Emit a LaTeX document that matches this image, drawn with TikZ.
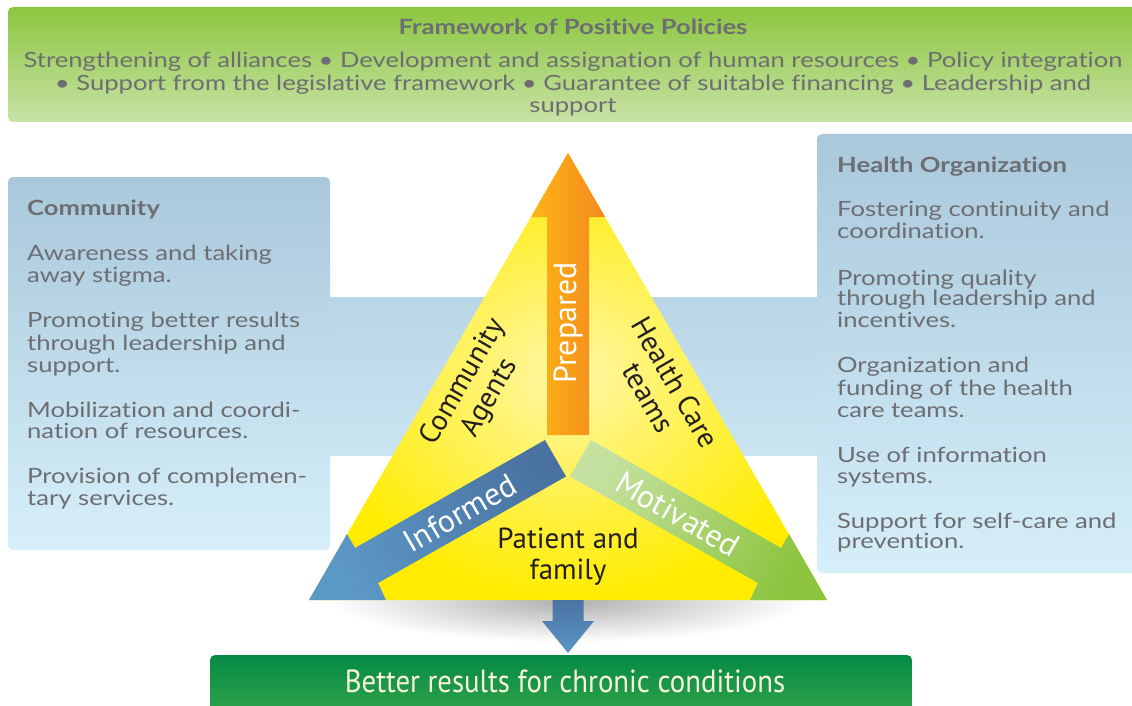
\documentclass[tikz,border=0pt]{standalone}
\usepackage{fontspec}
\setmainfont{Lato}
\newfontfamily\boxf[FakeStretch=1.22,Ligatures=NoCommon]{Lato}
\newfontfamily\myr{PT Sans}
\newfontfamily\myrc[FakeStretch=0.9]{PT Sans}
\definecolor{bxtop}{HTML}{A9C8DB}
\definecolor{bxbot}{HTML}{D6EFFA}
\definecolor{gtop}{HTML}{8CC63F}
\definecolor{gbot}{HTML}{C8E2A6}
\definecolor{txtgrey}{HTML}{6D6E71}
\definecolor{yelout}{HTML}{FFEC00}
\definecolor{yelin}{HTML}{FFF7A8}
\definecolor{orA}{HTML}{FDB515}
\definecolor{orB}{HTML}{F4891F}
\definecolor{blTip}{HTML}{5C98C6}
\definecolor{blIn}{HTML}{4A72A1}
\definecolor{grTip}{HTML}{8CC43E}
\definecolor{grIn}{HTML}{C5E1A0}
\definecolor{dnA}{HTML}{4B74A3}
\definecolor{dnB}{HTML}{5B95C5}
\definecolor{gbA}{HTML}{058A46}
\definecolor{gbB}{HTML}{3DAA4A}
\definecolor{cream}{HTML}{F7F4DC}
\definecolor{dark}{HTML}{231F20}
\pgfdeclareradialshading{tshadow}{\pgfpoint{0bp}{0bp}}{color(0bp)=(black!32);color(8bp)=(black!20);color(22bp)=(white);color(50bp)=(white)}
\tikzset{
  boxtxt/.style={anchor=base west, inner sep=0pt, text=txtgrey, font=\boxf\fontsize{21}{22}\selectfont},
  boxttl/.style={boxtxt, font=\boxf\bfseries\fontsize{21}{22}\selectfont},
  toptxt/.style={anchor=base, inner sep=0pt, text=txtgrey, font=\boxf\fontsize{21}{22}\selectfont},
  trilbl/.style={inner sep=0pt, text=dark, align=center, font=\myr\fontsize{29}{31}\selectfont},
  arrlbl/.style={inner sep=0pt, text=white, font=\myr\fontsize{32}{34}\selectfont},
}
\begin{document}
\begin{tikzpicture}[x=1pt,y=-1pt]
\useasboundingbox (0,0) rectangle (1132,706);
\clip (0,0) rectangle (1132,706);
% top green box
\shade[top color=gtop, bottom color=gbot, rounded corners=5] (8,7) rectangle (1145,122);
\node[toptxt, font=\boxf\bfseries\fontsize{21}{22}\selectfont] (ttl) at (573,35) {Framework of Positive Policies};
\node[toptxt] (t1) at (573,68) {Strengthening of alliances • Development and assignation of human resources • Policy integration};
\node[toptxt] (t2) at (573,91) {• Support from the legislative framework • Guarantee of suitable financing • Leadership and};
\node[toptxt] (t3) at (573,113) {support};
% side boxes and band
\shade[top color=bxtop, bottom color=bxbot, rounded corners=5] (8,177) rectangle (330,550);
\shade[top color=bxtop, bottom color=bxbot, rounded corners=5] (817,134) rectangle (1145,573);
\shade[top color=bxtop!65!bxbot, bottom color=bxtop!26!bxbot] (330,297) rectangle (817,455);
% left box text
\node[boxttl] (c0) at (27,215) {Community};
\node[boxtxt] (c1) at (27,260) {Awareness and taking};
\node[boxtxt] (c2) at (27,282) {away stigma.};
\node[boxtxt] (c3) at (27,327) {Promoting better results};
\node[boxtxt] (c4) at (27,350) {through leadership and};
\node[boxtxt] (c5) at (27,372) {support.};
\node[boxtxt] (c6) at (27,417) {Mobilization and coordi-};
\node[boxtxt] (c7) at (27,438) {nation of resources.};
\node[boxtxt] (c8) at (27,483) {Provision of complemen-};
\node[boxtxt] (c9) at (27,505) {tary services.};
% right box text
\node[boxttl] (h0) at (837,172) {Health Organization};
\node[boxtxt] (h1) at (837,216) {Fostering continuity and};
\node[boxtxt] (h2) at (837,238) {coordination.};
\node[boxtxt] (h3) at (837,285) {Promoting quality};
\node[boxtxt] (h4) at (837,305) {through leadership and};
\node[boxtxt] (h5) at (837,327) {incentives.};
\node[boxtxt] (h6) at (837,372) {Organization and};
\node[boxtxt] (h7) at (837,395) {funding of the health};
\node[boxtxt] (h8) at (837,417) {care teams.};
\node[boxtxt] (h9) at (837,462) {Use of information};
\node[boxtxt] (h10) at (837,483) {systems.};
\node[boxtxt] (h11) at (837,528) {Support for self-care and};
\node[boxtxt] (h12) at (837,548) {prevention.};
% shadow under triangle
\begin{scope}
\clip (240,600) rectangle (900,670);
\shade[shading=tshadow] (568,600) ellipse [x radius=270, y radius=48];
\end{scope}
% triangle
\shade[inner color=yelin, outer color=yelout] (568,153) -- (309,600) -- (827,600) -- cycle;
% prepared arrow
\shade[left color=orA, right color=orB] (568,153) -- (530.9,217) -- (547,217) -- (547,435) -- (589,435) -- (589,217) -- (605.1,217) -- cycle;
% informed arrow
\shade[top color=blTip, bottom color=blIn, shading angle=120] (545,440) -- (566,476.5) -- (378,583) -- (386,600) -- (309,600) -- (347,534) -- (355,548) -- cycle;
% motivated arrow
\shade[top color=grTip, bottom color=grIn, shading angle=-120] (591,440) -- (570,476.5) -- (758,583) -- (750,600) -- (827,600) -- (789,534) -- (781,548) -- cycle;
% labels
\node[arrlbl, rotate=90] (prep) at (568,323) {Prepared};
\node[arrlbl, rotate=30] (inf) at (460,513) {Informed};
\node[arrlbl, rotate=-30] (mot) at (678,514) {Motivated};
\node[trilbl, rotate=60] (ca) at (477,390) {Community\\Agents};
\node[trilbl, rotate=-60] (hc) at (662,390) {Health Care\\teams};
\node[trilbl] (pf) at (568,557) {Patient and\\family};
% bottom box and arrow
\shade[top color=gbA, bottom color=gbB, rounded corners=5] (210,655) rectangle (912,730);
\node[anchor=base, inner sep=0pt, text=cream, font=\myrc\fontsize{32}{34}\selectfont] (res) at (565,692) {Better results for chronic conditions};
\shade[top color=dnA, bottom color=dnB] (552.5,600) -- (552.5,621) -- (542,621) -- (568,653) -- (594,621) -- (583.5,621) -- (583.5,600) -- cycle;
\end{tikzpicture}
\end{document}
